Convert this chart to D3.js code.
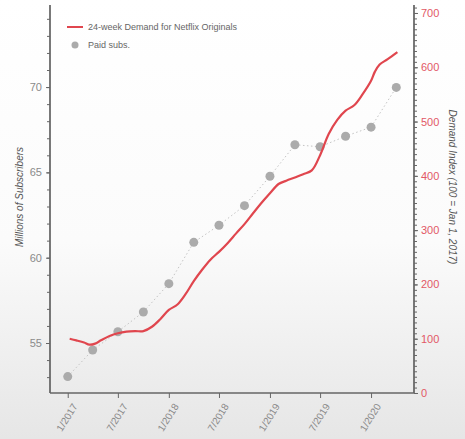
<!DOCTYPE html>
<html><head><meta charset="utf-8">
<script src="https://cdn.jsdelivr.net/npm/d3@7"></script>
<style>body{margin:0;}svg{display:block;font-family:"Liberation Sans",Arial,sans-serif;}</style>
</head><body><svg id="c" width="465" height="439"></svg>
<script>
const subsDates = ["2017-01-01","2017-04-01","2017-07-01","2017-10-01","2018-01-01","2018-04-01","2018-07-01","2018-10-01","2019-01-01","2019-04-01","2019-07-01","2019-10-01","2020-01-01","2020-04-01"];
const subsValues = [53.03,54.59,55.66,56.82,58.48,60.90,61.90,63.05,64.77,66.62,66.50,67.12,67.65,69.98];
const demandDates = ["2017-01-08","2017-02-01","2017-03-01","2017-03-20","2017-04-10","2017-05-01","2017-06-01","2017-07-01","2017-08-01","2017-09-01","2017-10-01","2017-11-01","2017-12-01","2018-01-01","2018-02-01","2018-03-01","2018-04-01","2018-05-01","2018-06-01","2018-07-01","2018-08-01","2018-09-01","2018-10-01","2018-11-01","2018-12-01","2019-01-01","2019-02-01","2019-03-01","2019-04-01","2019-05-01","2019-06-01","2019-07-01","2019-08-01","2019-09-01","2019-10-01","2019-11-01","2019-12-01","2020-01-01","2020-01-15","2020-02-01","2020-03-01","2020-04-05"];
const demandValues = [100,97,93,89,91,97,105,110,113,114,114,122,136,153,163,181,206,227,246,260,276,294,311,331,350,368,385,391,397,403,410,438,477,503,520,530,550,575,592,605,615,628];
const xTickLabels = ["1/2017","7/2017","1/2018","7/2018","1/2019","7/2019","1/2020"];
const xTickDates = ["2017-01-01","2017-07-01","2018-01-01","2018-07-01","2019-01-01","2019-07-01","2020-01-01"];
const leftTicks = [55,60,65,70];
const rightTicks = [0,100,200,300,400,500,600,700];

const svg = d3.select("#c");
const defs = svg.append("defs");
const g0 = defs.append("linearGradient").attr("id","bg").attr("x1",0).attr("y1",0).attr("x2",0).attr("y2",1);
g0.append("stop").attr("offset","0%").attr("stop-color","#ffffff");
g0.append("stop").attr("offset","55%").attr("stop-color","#fbfbfb");
g0.append("stop").attr("offset","100%").attr("stop-color","#e6e6e6");
svg.append("rect").attr("width",465).attr("height",439).attr("fill","url(#bg)");

const L = 50, R = 414, T = 5, B = 393;
const parse = d3.utcParse("%Y-%m-%d");
const x = d3.scaleUtc().domain([parse("2016-10-29"), parse("2020-06-04")]).range([L, R]);
const yL = d3.scaleLinear().domain([52.07, 74.81]).range([B, T]);
const yR = d3.scaleLinear().domain([0, 714.7]).range([B, T]);

const axisColor = "#666";
// left axis
const la = svg.append("g").attr("transform",`translate(${L},0)`)
  .call(d3.axisLeft(yL).tickValues(d3.range(53,75,1)).tickSize(3).tickFormat(""));
la.append("g").call(d3.axisLeft(yL).tickValues(leftTicks).tickSize(4).tickPadding(4).tickFormat(d3.format("d")));
la.selectAll("path").attr("stroke",axisColor).attr("stroke-width",1.3);
la.selectAll("line").attr("stroke",axisColor);
la.selectAll("text").attr("fill","#8a8a8a").attr("font-size",11);
la.selectAll("path.domain").attr("d",`M0,${B}V${T}`);

// right axis
const ra = svg.append("g").attr("transform",`translate(${R},0)`)
  .call(d3.axisRight(yR).tickValues(d3.range(10,711,10)).tickSize(3).tickFormat(""));
ra.append("g").call(d3.axisRight(yR).tickValues(rightTicks).tickSize(4).tickPadding(3).tickFormat(d3.format("d")));
ra.selectAll("path").attr("stroke",axisColor).attr("stroke-width",1.3);
ra.selectAll("line").attr("stroke",axisColor);
ra.selectAll("text").attr("fill","#e25866").attr("font-size",11);
ra.selectAll("path.domain").attr("d",`M0,${B}V${T}`);

// bottom axis
const ba = svg.append("g").attr("transform",`translate(0,${B})`)
  .call(d3.axisBottom(x).tickValues(xTickDates.map(parse)).tickSize(5).tickFormat((d,i)=>xTickLabels[i]));
ba.selectAll("path").attr("stroke",axisColor).attr("stroke-width",1.3).attr("d",`M${L},0H${R}`);
ba.selectAll("line").attr("stroke",axisColor);
ba.selectAll("text").attr("fill","#8a8a8a").attr("font-size",10)
  .attr("text-anchor","end").attr("dy","0").attr("transform","translate(3,9) rotate(-58)");

// paid subs dotted line + dots
const subs = subsDates.map((d,i)=>({d:parse(d), v:subsValues[i]}));
svg.append("path").datum(subs)
  .attr("d", d3.line().x(p=>x(p.d)).y(p=>yL(p.v)))
  .attr("fill","none").attr("stroke","#c4c4c4").attr("stroke-width",1).attr("stroke-dasharray","1.5,2.5");
svg.selectAll("circle.s").data(subs).join("circle").attr("class","s")
  .attr("cx",p=>x(p.d)).attr("cy",p=>yL(p.v)).attr("r",4.5).attr("fill","#ababab");

// demand line
const dem = demandDates.map((d,i)=>({d:parse(d), v:demandValues[i]}));
svg.append("path").datum(dem)
  .attr("d", d3.line().curve(d3.curveCatmullRom).x(p=>x(p.d)).y(p=>yR(p.v)))
  .attr("fill","none").attr("stroke","#e0464e").attr("stroke-width",2.2);

// legend
svg.append("line").attr("x1",67).attr("x2",83).attr("y1",27).attr("y2",27).attr("stroke","#e0464e").attr("stroke-width",2);
svg.append("text").attr("x",88).attr("y",30).attr("font-size",9).attr("fill","#666").text("24-week Demand for Netflix Originals");
svg.append("circle").attr("cx",75).attr("cy",45).attr("r",3.5).attr("fill","#ababab");
svg.append("text").attr("x",88).attr("y",48).attr("font-size",9).attr("fill","#666").text("Paid subs.");

// axis titles
svg.append("text").attr("transform","translate(23,197) rotate(-90)").attr("text-anchor","middle")
  .attr("font-size",10).attr("font-style","italic").attr("fill","#555").text("Millions of Subscribers");
svg.append("text").attr("transform","translate(449,187) rotate(90)").attr("text-anchor","middle")
  .attr("font-size",10).attr("font-style","italic").attr("fill","#555").text("Demand Index (100 = Jan 1, 2017)");
</script></body></html>
